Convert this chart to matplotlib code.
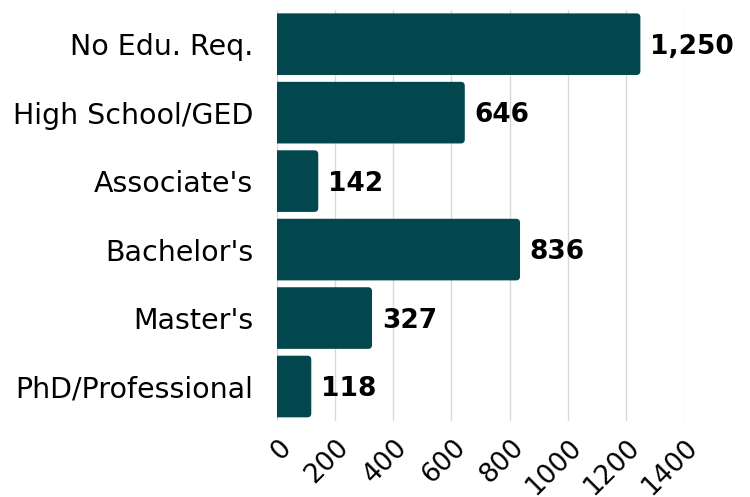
import matplotlib.pyplot as plt
from matplotlib.patches import FancyBboxPatch
from matplotlib.transforms import ScaledTranslation

# -----------------------------
# Data
# -----------------------------
categories = ["No Edu. Req.", "High School/GED", "Associate's",
              "Bachelor's", "Master's", "PhD/Professional"]
counts = [1250, 646, 142, 836, 327, 118]
xticks = [0, 200, 400, 600, 800, 1000, 1200, 1400]

BAR_COLOR = "#02474e"
GRID_COLOR = "#d9d9d9"

# -----------------------------
# Figure
# -----------------------------
fig = plt.figure(figsize=(7.5, 4.97), dpi=100)
ax = fig.add_axes([0.3693, 0.1534, 0.912 - 0.3693, 0.980 - 0.1534])

y = list(range(len(categories)))
ax.set_ylim(len(categories) - 0.5, -0.5)
ax.set_xlim(0, 1400)

# rounded bars: swap the plain barh rectangles for rounded boxes
bars = ax.barh(y, counts, height=0.9, color=BAR_COLOR, zorder=2)
fig.canvas.draw()
bb = ax.get_window_extent()
px_per_x = bb.width / 1400
px_per_y = bb.height / len(categories)
for b in bars:
    b.set_visible(False)
    x0, y0 = b.get_xy()
    w, h = b.get_width(), b.get_height()
    box = FancyBboxPatch((x0 - 30, y0), w + 30, h,
                         boxstyle=f"round,pad=0,rounding_size={4 / px_per_x}",
                         mutation_aspect=px_per_x / px_per_y,
                         fc=BAR_COLOR, ec="none", zorder=2)
    ax.add_patch(box)

# value labels
for yi, v in zip(y, counts):
    ax.annotate(f"{v:,}", xy=(v, yi), xytext=(7, -2), textcoords="offset points",
                ha="left", va="center", fontsize=19, fontweight="bold",
                color="black", clip_on=False)

ax.set_yticks(y)
ax.set_yticklabels(categories, fontsize=20.5)

# x tick labels drawn by hand so they can sit offset from the tick (plotly style)
ax.set_xticks(xticks)
ax.set_xticklabels([])
lbl_tr = ax.get_xaxis_transform() + ScaledTranslation(10 / 100, -23 / 100, fig.dpi_scale_trans)
for t in xticks:
    ax.text(t, 0, str(t), transform=lbl_tr, fontsize=19, rotation=45,
            ha="right", va="center", rotation_mode="anchor", clip_on=False)

ax.tick_params(axis="y", length=0, pad=17)
ax.tick_params(axis="x", length=0)
ax.grid(axis="x", color=GRID_COLOR, linewidth=1, zorder=0)
ax.set_axisbelow(True)
for s in ax.spines.values():
    s.set_visible(False)

fig.savefig("out.png", dpi=100)
